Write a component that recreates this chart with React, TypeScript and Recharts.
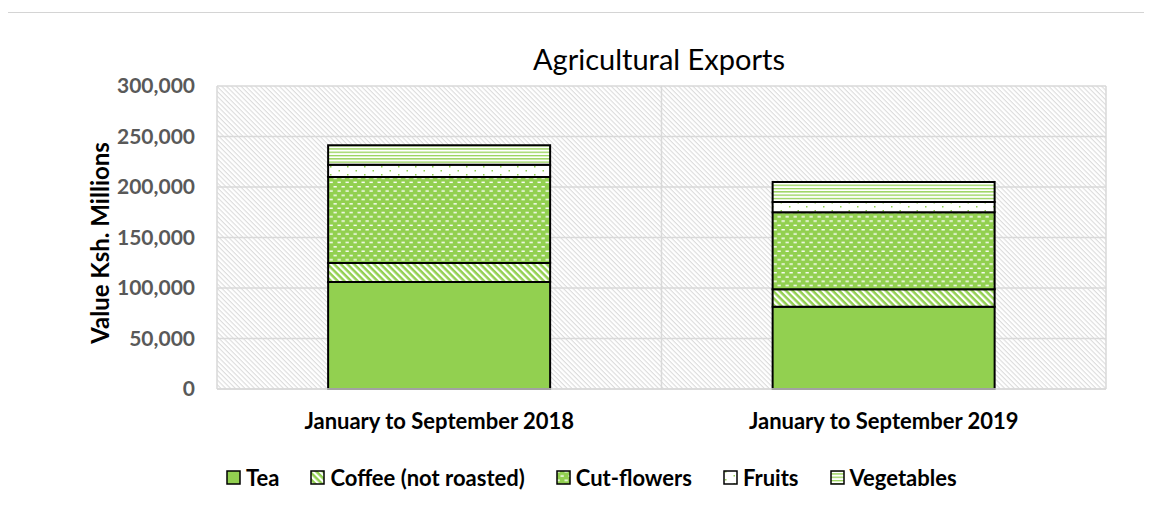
import { BarChart, Bar, XAxis, YAxis, CartesianGrid, Legend } from 'recharts';

const categories = ['January to September 2018', 'January to September 2019'];
const tea = [105900, 81500];
const coffee = [18800, 17200];
const cutFlowers = [85200, 76300];
const fruits = [12200, 10200];
const vegetables = [19200, 19800];
const yTicks = [0, 50000, 100000, 150000, 200000, 250000, 300000];

const GREEN = '#92d050';
const FONT = 'Lato, "Open Sans", sans-serif';

const series = [
  { key: 'tea', name: 'Tea', fill: 'url(#pTea)' },
  { key: 'coffee', name: 'Coffee (not roasted)', fill: 'url(#pCoffee)' },
  { key: 'cutFlowers', name: 'Cut-flowers', fill: 'url(#pFlowers)' },
  { key: 'fruits', name: 'Fruits', fill: 'url(#pFruits)' },
  { key: 'vegetables', name: 'Vegetables', fill: 'url(#pVeg)' },
];

const data = categories.map((name, i) => ({
  name,
  tea: tea[i],
  coffee: coffee[i],
  cutFlowers: cutFlowers[i],
  fruits: fruits[i],
  vegetables: vegetables[i],
}));

function LegendContent() {
  return (
    <div style={{ display: 'flex', alignItems: 'center', fontFamily: FONT, fontWeight: 700, fontSize: 22, color: '#000', whiteSpace: 'nowrap' }}>
      {series.map((s) => (
        <div key={s.key} style={{ display: 'flex', alignItems: 'center', marginRight: 31 }}>
          <svg width={15} height={15} style={{ marginRight: 5 }}>
            <rect x={1} y={1} width={13} height={13} fill={s.fill} stroke="#000" strokeWidth={1.5} />
          </svg>
          <span>{s.name}</span>
        </div>
      ))}
    </div>
  );
}

export default function App() {
  return (
    <div
      style={{
        position: 'relative',
        marginLeft: -4,
        top: 4,
        width: 1160,
        height: 500,
        borderTop: '1px solid #d4d4d4',
        boxSizing: 'border-box',
      }}
    >
      <div style={{ position: 'absolute', left: 0, top: 0, width: 2, height: 500, background: '#d4d4d4' }} />
      <div style={{ position: 'absolute', left: 1, top: 0 }}>
        <BarChart
          width={1150}
          height={495}
          data={data}
          margin={{ top: 73, right: 49, left: 0, bottom: 79 }}
          barCategoryGap="25%"
        >
          <defs>
            <pattern id="pBg" width={3.4} height={3.4} patternUnits="userSpaceOnUse" patternTransform="rotate(45)">
              <rect width={3.4} height={3.4} fill="#fff" />
              <rect width={3.4} height={1.1} fill="#dcdcdc" />
            </pattern>
            <pattern id="pTea" width={4} height={4} patternUnits="userSpaceOnUse">
              <rect width={4} height={4} fill={GREEN} />
            </pattern>
            <pattern id="pCoffee" width={4.7} height={4.7} patternUnits="userSpaceOnUse" patternTransform="rotate(45)">
              <rect width={4.7} height={4.7} fill="#fff" />
              <rect width={4.7} height={2.5} fill={GREEN} />
            </pattern>
            <pattern id="pFlowers" width={8} height={8.6} patternUnits="userSpaceOnUse">
              <rect width={8} height={8.6} fill={GREEN} />
              <rect x={0.5} y={1} width={3.3} height={1.4} fill="#fff" />
              <rect x={4.5} y={5.3} width={3.3} height={1.4} fill="#fff" />
            </pattern>
            <pattern id="pFruits" width={17} height={8} patternUnits="userSpaceOnUse">
              <rect width={17} height={8} fill="#fff" />
              <rect x={2} y={1} width={1.5} height={1.5} fill={GREEN} />
              <rect x={10.5} y={5} width={1.5} height={1.5} fill={GREEN} />
            </pattern>
            <pattern id="pVeg" width={4} height={3.3} patternUnits="userSpaceOnUse">
              <rect width={4} height={3.3} fill="#fff" />
              <rect width={4} height={1.3} fill={GREEN} />
            </pattern>
          </defs>
          <text x={654} y={57} textAnchor="middle" fontFamily={FONT} fontSize={29} fill="#000">
            Agricultural Exports
          </text>
          <text
            x={94}
            y={230}
            transform="rotate(-90 94 230)"
            textAnchor="middle"
            dominantBaseline="central"
            fontFamily={FONT}
            fontWeight={700}
            fontSize={24}
            fill="#000"
          >
            Value Ksh. Millions
          </text>
          <CartesianGrid
            stroke="#d9d9d9"
            strokeWidth={1.5}
            fill="url(#pBg)"
            verticalCoordinatesGenerator={({ offset }: any) => [
              offset.left,
              offset.left + offset.width / 2,
              offset.left + offset.width,
            ]}
          />
          <XAxis
            dataKey="name"
            height={40}
            tickSize={0}
            tickMargin={24}
            axisLine={{ stroke: '#d9d9d9', strokeWidth: 1.5 }}
            tick={{ fill: '#000', fontFamily: FONT, fontWeight: 700, fontSize: 22 }}
          />
          <YAxis
            width={212}
            domain={[0, 300000]}
            ticks={yTicks}
            tickSize={0}
            tickMargin={22}
            axisLine={false}
            tickFormatter={(v: number) => v.toLocaleString('en-US')}
            tick={{ fill: '#595959', fontFamily: FONT, fontWeight: 700, fontSize: 21 }}
          />
          <Legend
            verticalAlign="middle"
            align="center"
            content={() => <LegendContent />}
            wrapperStyle={{ left: 221, top: 451, width: 'auto' }}
          />
          {series.map((s) => (
            <Bar
              key={s.key}
              dataKey={s.key}
              name={s.name}
              stackId="a"
              fill={s.fill}
              stroke="#000"
              strokeWidth={2}
              isAnimationActive={false}
            />
          ))}
        </BarChart>
      </div>
    </div>
  );
}
